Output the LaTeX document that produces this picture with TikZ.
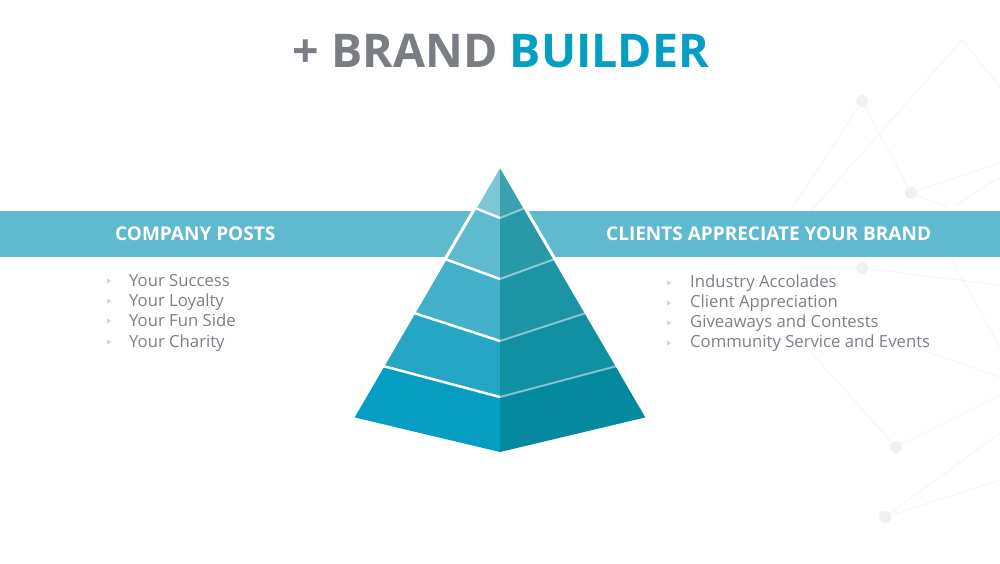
\documentclass[tikz,border=0pt]{standalone}
\usepackage{fontspec}
\setmainfont{Open Sans}
\definecolor{titlegray}{HTML}{7B7D85}
\definecolor{titleblue}{HTML}{049DC3}
\definecolor{barblue}{HTML}{5FBACF}
\definecolor{listgray}{HTML}{7E8089}
\definecolor{bulletgray}{HTML}{D3D5D8}
\definecolor{netgray}{HTML}{F3F3F3}
\definecolor{dotgray}{HTML}{F0F0F0}
\definecolor{la}{HTML}{7DC6D5}
\definecolor{lb}{HTML}{5EBACE}
\definecolor{lc}{HTML}{43B1CA}
\definecolor{ld}{HTML}{26A6C5}
\definecolor{le}{HTML}{059EC2}
\definecolor{ra}{HTML}{3AA1B0}
\definecolor{rb}{HTML}{2899A9}
\definecolor{rc}{HTML}{1C94A5}
\definecolor{rd}{HTML}{1190A3}
\definecolor{re}{HTML}{04899F}
\tikzset{
  netline/.style={draw=netgray, line width=0.7pt},
  netdot/.style={fill=dotgray},
  bartext/.style={text=white, font=\bfseries\fontsize{19}{23}\selectfont, anchor=base west, inner sep=0pt},
  listtext/.style={text=listgray, font=\fontsize{16.7}{20}\selectfont, anchor=base west, inner sep=0pt},
  bullet/.style={fill=bulletgray},
  leftsep/.style={draw=white, line width=2.5pt},
  rightsep/.style={draw=white, draw opacity=0.45, line width=2pt},
}
\newcommand{\bul}[2]{\fill[bullet] (#1-2,#2-2.5) -- (#1+2.5,#2) -- (#1-2,#2+2.5) -- cycle;}
\begin{document}
\begin{tikzpicture}[x=1pt,y=-1pt]
\useasboundingbox (0,0) rectangle (1000,563);
\fill[white] (0,0) rectangle (1000,563);
% background network
\draw[netline] (962,40) -- (1000,87);
\draw[netline] (962,40) -- (811,211);
\draw[netline] (862,101) -- (793,207);
\draw[netline] (862,101) -- (911,193);
\draw[netline] (911,193) -- (1000,163);
\draw[netline] (953,207) -- (1000,177);
\draw[netline] (911,193) -- (947,207);
\draw[netline] (862,268) -- (1000,285);
\draw[netline] (800,268) -- (862,268);
\draw[netline] (950,257) -- (1000,347);
\draw[netline] (800,340) -- (896,447);
\draw[netline] (896,447) -- (1000,395);
\draw[netline] (885,517) -- (1000,433);
\draw[netline] (885,517) -- (1000,480);
\draw[netline] (893,340) -- (1000,377);
\fill[netdot] (862,101) circle (6);
\fill[netdot] (911,193) circle (6);
\fill[netdot] (862,268) circle (6);
\fill[netdot] (896,447) circle (6);
\fill[netdot] (885,517) circle (6);
% bar
\fill[barblue] (0,211) rectangle (1000,257);
% pyramid points
\coordinate (L0) at (500,165);
\coordinate (L1) at (475,208);
\coordinate (L2) at (445,259);
\coordinate (L3) at (414,313);
\coordinate (L4) at (383,366);
\coordinate (L5) at (353,417);
\coordinate (C1) at (500,218);
\coordinate (C2) at (500,279);
\coordinate (C3) at (500,341);
\coordinate (C4) at (500,397);
\coordinate (C5) at (500,452);
\coordinate (R1) at (525,208);
\coordinate (R2) at (555,259);
\coordinate (R3) at (586,313);
\coordinate (R4) at (617,366);
\coordinate (R5) at (647,417);
% left face
\fill[la] (L0) -- (L1) -- (C1) -- cycle;
\fill[lb] (L1) -- (L2) -- (C2) -- (C1) -- cycle;
\fill[lc] (L2) -- (L3) -- (C3) -- (C2) -- cycle;
\fill[ld] (L3) -- (L4) -- (C4) -- (C3) -- cycle;
\fill[le] (L4) -- (L5) -- (C5) -- (C4) -- cycle;
% right face
\fill[ra] (L0) -- (R1) -- (C1) -- cycle;
\fill[rb] (R1) -- (R2) -- (C2) -- (C1) -- cycle;
\fill[rc] (R2) -- (R3) -- (C3) -- (C2) -- cycle;
\fill[rd] (R3) -- (R4) -- (C4) -- (C3) -- cycle;
\fill[re] (R4) -- (R5) -- (C5) -- (C4) -- cycle;
% separators
\foreach \i in {1,...,4} {
  \draw[leftsep] (L\i) -- (C\i);
  \draw[rightsep] (C\i) -- (R\i);
}
\draw[white, line width=3pt, line join=miter] (L5) -- (L0) -- (R5);
% title
\node[anchor=base, inner sep=0pt, font=\bfseries\fontsize{46.5}{52}\selectfont] (title) at (501,67)
  {\textcolor{titlegray}{+ BRAND} \textcolor{titleblue}{BUILDER}};
% bar texts
\node[bartext] (lefthead) at (115,240.5) {COMPANY POSTS};
\node[bartext] (righthead) at (606,240.5) {CLIENTS APPRECIATE YOUR BRAND};
% left list
\node[listtext] (l1) at (129,286) {Your Success};
\node[listtext] (l2) at (129,306) {Your Loyalty};
\node[listtext] (l3) at (129,326) {Your Fun Side};
\node[listtext] (l4) at (129,347) {Your Charity};
\bul{109}{281}
\bul{109}{301}
\bul{109}{321}
\bul{109}{342}
% right list
\node[listtext] (r1) at (690,287) {Industry Accolades};
\node[listtext] (r2) at (690,307) {Client Appreciation};
\node[listtext] (r3) at (690,327) {Giveaways and Contests};
\node[listtext] (r4) at (690,347) {Community Service and Events};
\bul{669}{283}
\bul{669}{303}
\bul{669}{323}
\bul{669}{343}
\end{tikzpicture}
\end{document}
